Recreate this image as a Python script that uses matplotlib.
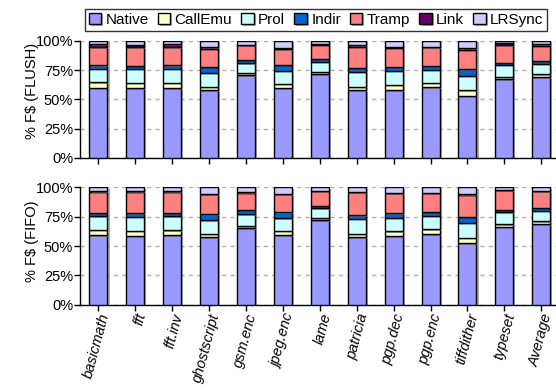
import matplotlib.pyplot as plt
import matplotlib.patheffects as pe
import numpy as np

plt.rcParams['font.family'] = ['Liberation Sans', 'DejaVu Sans']

benchmarks = ["basicmath", "fft", "fft.inv", "ghostscript", "gsm.enc", "jpeg.enc",
              "lame", "patricia", "pgp.dec", "pgp.enc", "tiffdither", "typeset", "Average"]
series = ["Native", "CallEmu", "Prol", "Indir", "Tramp", "Link", "LRSync"]
colors = ["#9999ff", "#ffffcc", "#ccffff", "#0066cc", "#ff8080", "#660066", "#ccccff"]

# percentages per benchmark, FLUSH policy
flush_native = [60.0, 59.4, 59.4, 57.7, 70.5, 59.4, 71.3, 57.7, 57.7, 60.2, 53.1, 67.0, 68.8]
flush_callemu = [4.5, 4.6, 4.8, 3.1, 1.9, 4.0, 2.3, 3.1, 4.5, 4.0, 4.6, 2.3, 2.5]
flush_prol = [11.5, 11.9, 11.8, 11.9, 8.3, 10.7, 8.5, 12.8, 11.9, 11.1, 12.5, 10.0, 9.1]
flush_indir = [3.0, 2.5, 3.0, 4.9, 2.8, 5.2, 2.3, 3.4, 3.7, 3.4, 5.4, 2.0, 2.6]
flush_tramp = [15.3, 15.9, 15.3, 15.6, 12.5, 13.3, 11.9, 17.9, 16.2, 15.6, 16.4, 14.7, 12.5]
flush_link = [2.7, 2.0, 2.7, 1.1, 0.3, 1.2, 0.9, 1.1, 0.9, 0.6, 1.5, 2.0, 1.5]
flush_lrsync = [3.0, 3.7, 3.0, 5.7, 3.7, 6.2, 2.8, 4.0, 5.1, 5.1, 6.5, 2.0, 3.0]

# percentages per benchmark, FIFO policy
fifo_native = [59.1, 58.5, 59.1, 57.4, 65.1, 59.1, 71.9, 57.4, 58.2, 59.9, 52.3, 66.2, 68.5]
fifo_callemu = [4.5, 4.5, 4.3, 2.8, 2.2, 3.7, 2.2, 3.1, 4.3, 4.3, 4.5, 2.3, 2.5]
fifo_prol = [11.7, 11.7, 11.9, 11.7, 9.7, 10.8, 8.0, 12.5, 11.6, 11.4, 13.1, 10.2, 9.1]
fifo_indir = [3.1, 3.1, 3.1, 5.1, 3.7, 5.1, 2.3, 3.1, 3.7, 3.4, 4.8, 2.0, 2.3]
fifo_tramp = [17.6, 18.5, 17.9, 17.0, 14.8, 15.3, 12.5, 19.6, 17.1, 16.2, 18.8, 16.7, 14.2]
fifo_link = [0.6, 0.3, 0.3, 0.3, 0.3, 0.3, 0.3, 0.3, 0.3, 0.3, 0.5, 0.6, 0.6]
fifo_lrsync = [3.4, 3.4, 3.4, 5.7, 4.2, 5.7, 2.8, 4.0, 4.8, 4.5, 6.0, 2.0, 2.8]

flush = [flush_native, flush_callemu, flush_prol, flush_indir, flush_tramp, flush_link, flush_lrsync]
fifo = [fifo_native, fifo_callemu, fifo_prol, fifo_indir, fifo_tramp, fifo_link, fifo_lrsync]


def drawPanel(ax, data, ylabel, labelY, showLabels):
    """Stacked percentage bars for one policy."""
    x = np.arange(len(benchmarks))
    bottom = np.zeros(len(benchmarks))
    handles = []
    for name, vals, col in zip(series, data, colors):
        bars = ax.bar(x, vals, 0.49, bottom=bottom, color=col, edgecolor="black",
                      linewidth=1.0, label=name, zorder=3)
        for b in bars:
            b.set_path_effects([pe.SimplePatchShadow(offset=(1.5, -1.0), shadow_rgbFace="0.45",
                                                     alpha=0.6), pe.Normal()])
        handles.append(bars)
        bottom += np.array(vals)
    ax.set_ylim(0, 100)
    ax.set_xlim(-0.5, 12.4)
    ax.set_yticks([0, 25, 50, 75, 100])
    ax.set_yticklabels(["0%", "25%", "50%", "75%", "100%"], fontsize=10.5)
    ax.yaxis.grid(True, linestyle=(0, (3, 3)), color="#b0b0b0", linewidth=1.0, zorder=0)
    ax.set_axisbelow(True)
    ax.set_ylabel(ylabel, fontsize=10.5)
    ax.yaxis.set_label_coords(-0.087, labelY)
    ax.spines['top'].set_visible(False)
    ax.spines['right'].set_visible(False)
    ax.spines['left'].set_linewidth(1.0)
    ax.spines['bottom'].set_linewidth(1.0)
    ax.tick_params(axis='both', direction='out', length=4, width=1.0, pad=1)
    ax.set_xticks(x)
    if showLabels:
        ax.set_xticklabels(benchmarks, rotation=75, ha='right', rotation_mode='anchor',
                           fontsize=10.5, style='italic')
    else:
        ax.set_xticklabels([])
    return handles


fig = plt.figure(figsize=(5.56, 3.90), dpi=100)
ax1 = fig.add_axes([0.1439, 0.5949, 0.8561, 0.3008])
ax2 = fig.add_axes([0.1439, 0.2187, 0.8561, 0.3010])

handles = drawPanel(ax1, flush, "% F$ (FLUSH)", 0.57, False)
drawPanel(ax2, fifo, "% F$ (FIFO)", 0.54, True)

leg = fig.legend(handles, series, loc='upper center', bbox_to_anchor=(0.5685, 0.985), ncol=7,
                 fontsize=11, frameon=True, fancybox=False, edgecolor="black",
                 handlelength=0.8, handleheight=0.8, handletextpad=0.3, columnspacing=0.6,
                 borderpad=0.25, borderaxespad=0.2)
leg.get_frame().set_linewidth(1.0)

fig.savefig("out.png", dpi=100)
